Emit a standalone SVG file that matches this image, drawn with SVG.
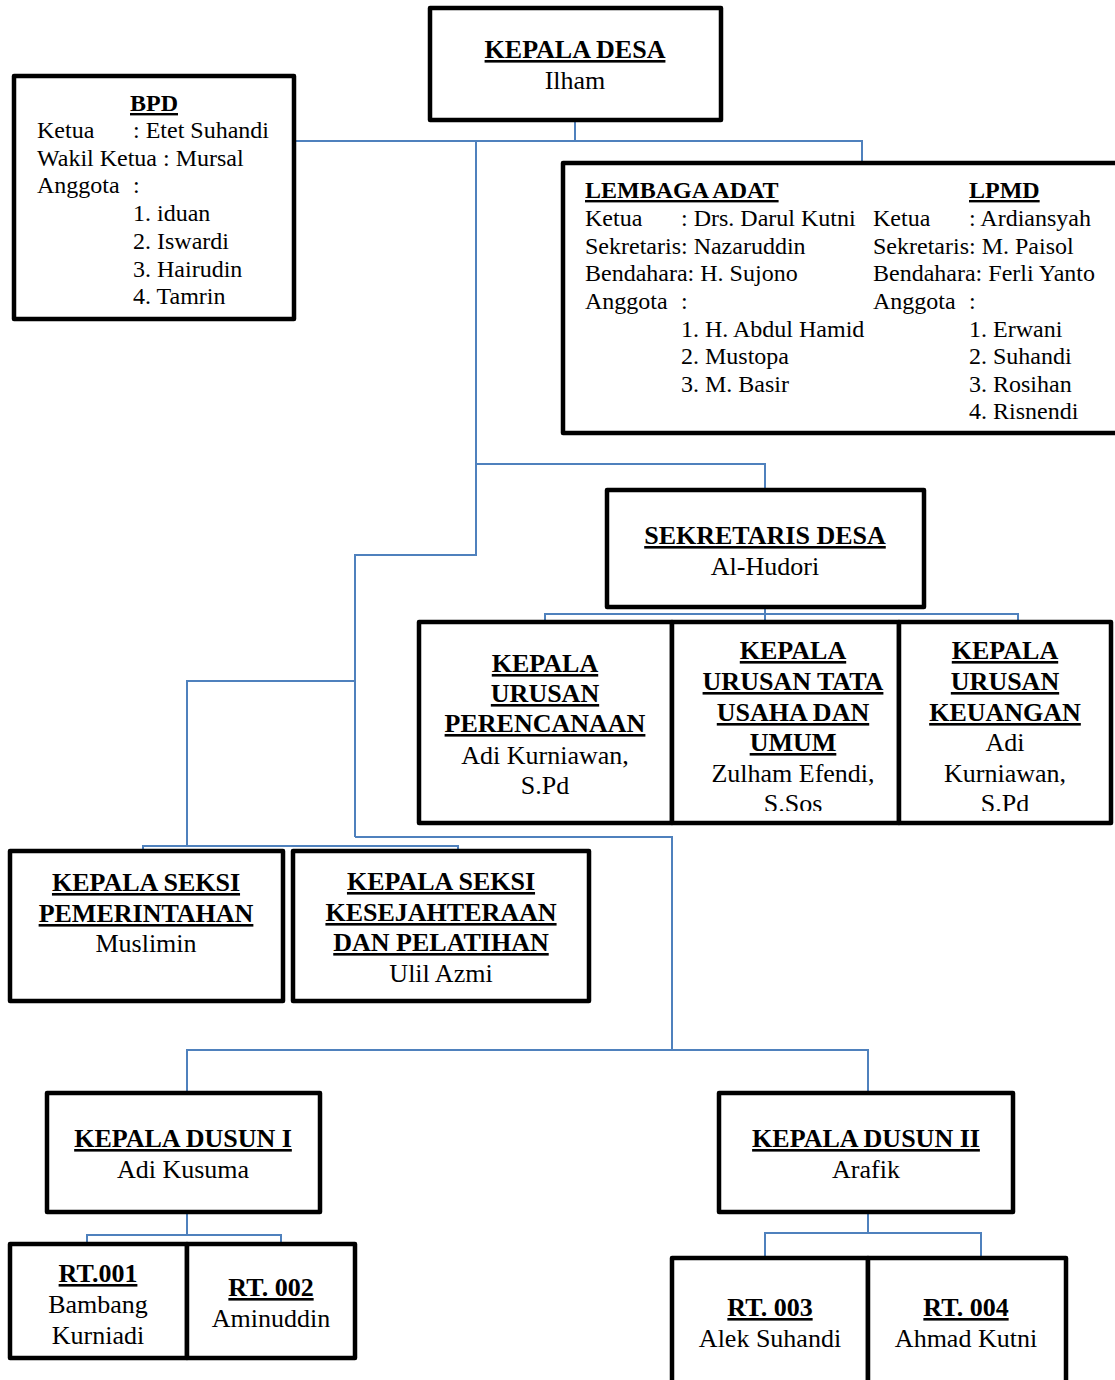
<svg xmlns="http://www.w3.org/2000/svg" width="1115" height="1380" viewBox="0 0 1115 1380">
<style>
text{font-family:"Liberation Serif","Times New Roman",serif;fill:#000}
.t{font-size:26px;font-weight:bold;text-decoration:underline;text-anchor:middle}
.n{font-size:26px;text-anchor:middle}
.st{font-size:24px;font-weight:bold;text-decoration:underline}
.s{font-size:24px}
.box{fill:#fff;stroke:#000;stroke-width:4.5;stroke-linejoin:round}
.con{fill:none;stroke:#4f81bd;stroke-width:2}
</style>
<defs>
<clipPath id="clipTata"><rect x="674" y="625" width="224" height="186"/></clipPath>
<clipPath id="clipKeu"><rect x="901" y="625" width="208" height="186"/></clipPath>
</defs>
<rect width="1115" height="1380" fill="#fff"/>
<g id="connectors" class="con">
<path d="M575,120 V141"/>
<path d="M294,141 H862 V163"/>
<path d="M476,141 V555 H355 V837"/>
<path d="M476,464 H765 V490"/>
<path d="M765,607 V622"/>
<path d="M545,622 V614 H1018 V622"/>
<path d="M355,681 H187 V846"/>
<path d="M143,851 V846 H458 V851"/>
<path d="M355,837 H672 V1050"/>
<path d="M187,1093 V1050 H868 V1093"/>
<path d="M187,1212 V1235"/>
<path d="M87,1244 V1235 H281 V1244"/>
<path d="M868,1212 V1233"/>
<path d="M765,1258 V1233 H981 V1258"/>
</g>
<g id="kepala-desa">
<rect class="box" x="430" y="8" width="291" height="112"/>
<text class="t" x="575" y="58">KEPALA DESA</text>
<text class="n" x="575" y="89">Ilham</text>
</g>
<g id="bpd">
<rect class="box" x="14" y="76" width="280" height="243"/>
<text class="st" x="154" y="111" text-anchor="middle">BPD</text>
<text class="s" x="37" y="138">Ketua</text><text class="s" x="133" y="138">: Etet Suhandi</text>
<text class="s" x="37" y="166">Wakil Ketua : Mursal</text>
<text class="s" x="37" y="193">Anggota</text><text class="s" x="133" y="193">:</text>
<text class="s" x="133" y="221">1. iduan</text>
<text class="s" x="133" y="249">2. Iswardi</text>
<text class="s" x="133" y="277">3. Hairudin</text>
<text class="s" x="133" y="304">4. Tamrin</text>
</g>
<g id="lembaga-adat-lpmd">
<rect class="box" x="563" y="163" width="580" height="270"/>
<text class="st" x="585" y="198">LEMBAGA ADAT</text>
<text class="s" x="585" y="226">Ketua</text><text class="s" x="681" y="226">: Drs. Darul Kutni</text>
<text class="s" x="585" y="254">Sekretaris: Nazaruddin</text>
<text class="s" x="585" y="281">Bendahara: H. Sujono</text>
<text class="s" x="585" y="309">Anggota</text><text class="s" x="681" y="309">:</text>
<text class="s" x="681" y="337">1. H. Abdul Hamid</text>
<text class="s" x="681" y="364">2. Mustopa</text>
<text class="s" x="681" y="392">3. M. Basir</text>
<text class="st" x="969" y="198">LPMD</text>
<text class="s" x="873" y="226">Ketua</text><text class="s" x="969" y="226">: Ardiansyah</text>
<text class="s" x="873" y="254">Sekretaris: M. Paisol</text>
<text class="s" x="873" y="281">Bendahara: Ferli Yanto</text>
<text class="s" x="873" y="309">Anggota</text><text class="s" x="969" y="309">:</text>
<text class="s" x="969" y="337">1. Erwani</text>
<text class="s" x="969" y="364">2. Suhandi</text>
<text class="s" x="969" y="392">3. Rosihan</text>
<text class="s" x="969" y="419">4. Risnendi</text>
</g>
<g id="sekretaris-desa">
<rect class="box" x="607" y="490" width="317" height="117"/>
<text class="t" x="765" y="544">SEKRETARIS DESA</text>
<text class="n" x="765" y="575">Al-Hudori</text>
</g>
<g id="kaur-perencanaan">
<rect class="box" x="419" y="622" width="253" height="201"/>
<text class="t" x="545" y="672">KEPALA</text>
<text class="t" x="545" y="702">URUSAN</text>
<text class="t" x="545" y="732">PERENCANAAN</text>
<text class="n" x="545" y="764">Adi Kurniawan,</text>
<text class="n" x="545" y="794">S.Pd</text>
</g>
<g id="kaur-tata-usaha">
<rect class="box" x="672" y="622" width="227" height="201"/>
<g clip-path="url(#clipTata)">
<text class="t" x="793" y="659">KEPALA</text>
<text class="t" x="793" y="690">URUSAN TATA</text>
<text class="t" x="793" y="721">USAHA DAN</text>
<text class="t" x="793" y="751">UMUM</text>
<text class="n" x="793" y="782">Zulham Efendi,</text>
<text class="n" x="793" y="812">S.Sos</text>
</g>
</g>
<g id="kaur-keuangan">
<rect class="box" x="899" y="622" width="212" height="201"/>
<g clip-path="url(#clipKeu)">
<text class="t" x="1005" y="659">KEPALA</text>
<text class="t" x="1005" y="690">URUSAN</text>
<text class="t" x="1005" y="721">KEUANGAN</text>
<text class="n" x="1005" y="751">Adi</text>
<text class="n" x="1005" y="782">Kurniawan,</text>
<text class="n" x="1005" y="812">S.Pd</text>
</g>
</g>
<g id="kasi-pemerintahan">
<rect class="box" x="10" y="851" width="273" height="150"/>
<text class="t" x="146" y="891">KEPALA SEKSI</text>
<text class="t" x="146" y="922">PEMERINTAHAN</text>
<text class="n" x="146" y="952">Muslimin</text>
</g>
<g id="kasi-kesejahteraan">
<rect class="box" x="293" y="851" width="296" height="150"/>
<text class="t" x="441" y="890">KEPALA SEKSI</text>
<text class="t" x="441" y="921">KESEJAHTERAAN</text>
<text class="t" x="441" y="951">DAN PELATIHAN</text>
<text class="n" x="441" y="982">Ulil Azmi</text>
</g>
<g id="kepala-dusun-1">
<rect class="box" x="47" y="1093" width="273" height="119"/>
<text class="t" x="183" y="1147">KEPALA DUSUN I</text>
<text class="n" x="183" y="1178">Adi Kusuma</text>
</g>
<g id="kepala-dusun-2">
<rect class="box" x="719" y="1093" width="294" height="119"/>
<text class="t" x="866" y="1147">KEPALA DUSUN II</text>
<text class="n" x="866" y="1178">Arafik</text>
</g>
<g id="rt-001">
<rect class="box" x="10" y="1244" width="177" height="114"/>
<text class="t" x="98" y="1282">RT.001</text>
<text class="n" x="98" y="1313">Bambang</text>
<text class="n" x="98" y="1344">Kurniadi</text>
</g>
<g id="rt-002">
<rect class="box" x="187" y="1244" width="168" height="114"/>
<text class="t" x="271" y="1296">RT. 002</text>
<text class="n" x="271" y="1327">Aminuddin</text>
</g>
<g id="rt-003">
<rect class="box" x="672" y="1258" width="196" height="140"/>
<text class="t" x="770" y="1316">RT. 003</text>
<text class="n" x="770" y="1347">Alek Suhandi</text>
</g>
<g id="rt-004">
<rect class="box" x="868" y="1258" width="198" height="140"/>
<text class="t" x="966" y="1316">RT. 004</text>
<text class="n" x="966" y="1347">Ahmad Kutni</text>
</g>
</svg>
